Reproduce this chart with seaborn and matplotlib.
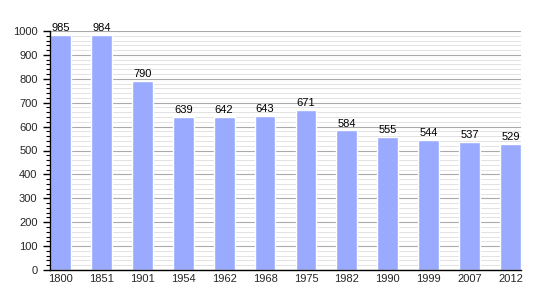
import matplotlib
matplotlib.use("Agg")
import matplotlib.pyplot as plt
import seaborn as sns
import pandas as pd
from matplotlib.ticker import MultipleLocator

years = ["1800", "1851", "1901", "1954", "1962", "1968", "1975", "1982", "1990", "1999", "2007", "2012"]
population = [985, 984, 790, 639, 642, 643, 671, 584, 555, 544, 537, 529]

df = pd.DataFrame({"year": years, "pop": population})

sns.set_style("white")
plt.rcParams["font.family"] = ["Liberation Sans", "DejaVu Sans"]

fig = plt.figure(figsize=(5.5, 3), dpi=100)
ax = fig.add_axes([50/550, 30/300, 471/550, 239/300])

ax.set_axisbelow(True)
ax.yaxis.set_major_locator(MultipleLocator(100))
ax.yaxis.set_minor_locator(MultipleLocator(20))
ax.grid(which="major", axis="y", color="#aaaaaa", linewidth=0.8)
ax.grid(which="minor", axis="y", color="#dddddd", linewidth=0.6)

sns.barplot(data=df, x="year", y="pop", color="#99aaff", saturation=1, width=0.51, ax=ax)

for i, v in enumerate(population):
    ax.text(i, v + 8, str(v), ha="center", va="bottom", fontsize=8, color="#000000")

ax.set_xlim(-0.255, len(years) - 1 + 0.255)
ax.set_ylim(0, 1000)
ax.set_xlabel("")
ax.set_ylabel("")

for s in ["top", "right"]:
    ax.spines[s].set_visible(False)
for s in ["left", "bottom"]:
    ax.spines[s].set_color("black")
    ax.spines[s].set_linewidth(1.0)

ax.tick_params(axis="y", which="major", direction="out", length=5, width=1, color="black", labelsize=8, pad=4, left=True)
ax.tick_params(axis="y", which="minor", direction="out", length=3, width=0.8, color="black", left=True)
ax.tick_params(axis="x", which="both", length=0, labelsize=8, pad=3)

fig.savefig("out.png", dpi=100)
